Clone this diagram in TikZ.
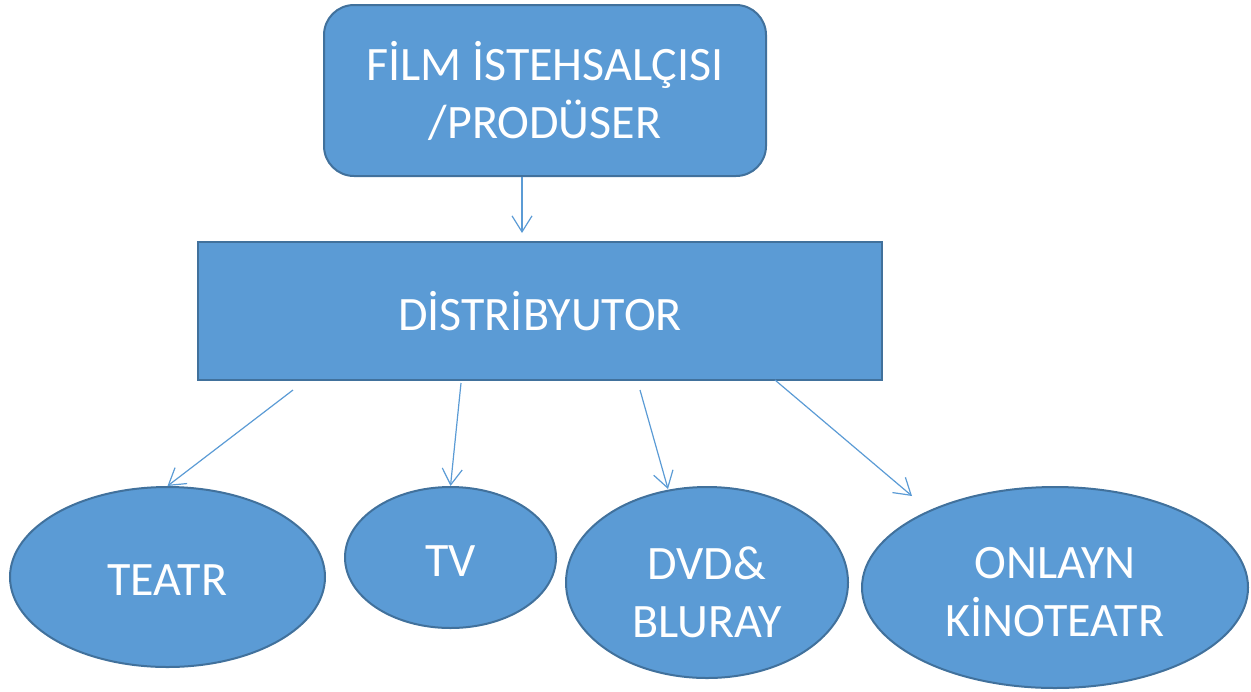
\documentclass[tikz,border=0pt]{standalone}
\usepackage{fontspec}
\setmainfont{Carlito}
\usetikzlibrary{arrows.meta,shapes.geometric}
\definecolor{boxfill}{HTML}{5B9BD5}
\definecolor{boxline}{HTML}{41719C}

\begin{document}
\begin{tikzpicture}[x = 0.5pt, y = -0.5pt,
    blue box/.style = {draw = boxline, fill = boxfill, line width = 1pt, inner sep = 0pt,
      text = white, align = center, font = \fontsize{24}{29}\selectfont},
    blob/.style = {blue box, ellipse},
    label/.style = {text = white, align = center, font = \fontsize{24}{29}\selectfont},
    link/.style = {draw = boxfill, line width = 0.6pt, -{Straight Barb[length = 8pt, width = 10pt]}}]
      \useasboundingbox (0, 0) rectangle (1251, 691);
      \node [blue box, rounded corners = 15pt, minimum width = 221pt, minimum height = 85.5pt]
        (prod) at (545, 90.5) {F\.ILM \.ISTEHSALÇISI\\/PRODÜSER};
      \node [blue box, minimum width = 342pt, minimum height = 69pt]
        (dist) at (540, 311) {D\.ISTR\.IBYUTOR};
      \node [blob, minimum width = 157.5pt, minimum height = 90pt] (teatr) at (167.5, 577) {};
      \node [blob, minimum width = 105.5pt, minimum height = 70.5pt] (tv) at (450.5, 557.5) {};
      \node [blob, minimum width = 141pt, minimum height = 95.5pt] (dvd) at (707, 582.5) {};
      \node [blob, minimum width = 193pt, minimum height = 100.5pt] (onlayn) at (1055, 587.5) {};
      \node [label] (teatr text) at (167.5, 580) {TEATR};
      \node [label] (tv text) at (450.5, 561) {TV};
      \node [label] (dvd text) at (707, 592) {DVD\&\\BLURAY};
      \node [label] (onlayn text) at (1055, 592) {ONLAYN\\K\.INOTEATR};
      % arrow ends
      \coordinate (a1) at (293, 390);
      \coordinate (a2) at (461, 383);
      \coordinate (a3) at (640, 390);
      \coordinate (a4) at (775, 380);
      \coordinate (b3) at (668, 489);
      \coordinate (b4) at (912, 496);
      \draw [link] (prod.south -| 522, 0) -- ([yshift = 4pt] dist.north -| 522, 0);
      \draw [link] (a1) -- (teatr.north);
      \draw [link] (a2) -- (tv.north);
      \draw [link] (a3) -- (b3);
      \draw [link] (a4) -- (b4);
    \end{tikzpicture}
\end{document}
